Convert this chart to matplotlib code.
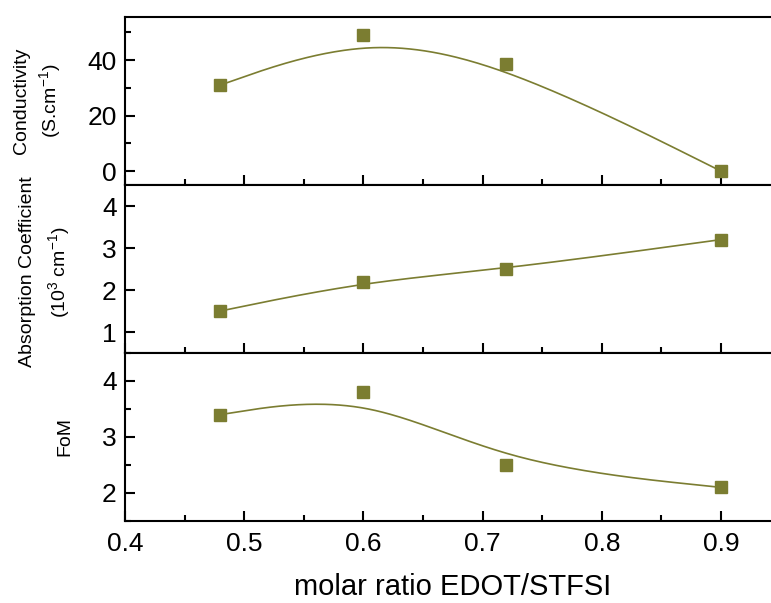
import numpy as np
import matplotlib
matplotlib.use("Agg")
import matplotlib.pyplot as plt
from matplotlib.ticker import MultipleLocator

plt.rcParams['font.family'] = ['Liberation Sans', 'DejaVu Sans']
plt.rcParams['mathtext.fontset'] = 'custom'
plt.rcParams['mathtext.rm'] = 'Liberation Sans'
plt.rcParams['mathtext.it'] = 'Liberation Sans:italic'
plt.rcParams['mathtext.default'] = 'regular'

molar_ratio = [0.48, 0.60, 0.72, 0.90]
conductivity = [31.0, 49.0, 38.5, 0.0]
absorption = [1.5, 2.2, 2.5, 3.2]
fom = [3.4, 3.8, 2.5, 2.1]

xticks = [0.4, 0.5, 0.6, 0.7, 0.8, 0.9]
xticklabels = ['0.4', '0.5', '0.6', '0.7', '0.8', '0.9']

COLOR = '#7b7d31'
W, H = 771, 603


def bspline(xs, ys, n=60):
    """Uniform cubic B-spline with clamped (tripled) end control points."""
    px = np.r_[[xs[0]] * 2, xs, [xs[-1]] * 2].astype(float)
    py = np.r_[[ys[0]] * 2, ys, [ys[-1]] * 2].astype(float)
    t = np.linspace(0, 1, n)
    b0 = (1 - t) ** 3 / 6
    b1 = (3 * t ** 3 - 6 * t ** 2 + 4) / 6
    b2 = (-3 * t ** 3 + 3 * t ** 2 + 3 * t + 1) / 6
    b3 = t ** 3 / 6
    ox, oy = [], []
    for i in range(len(px) - 3):
        ox.append(b0 * px[i] + b1 * px[i + 1] + b2 * px[i + 2] + b3 * px[i + 3])
        oy.append(b0 * py[i] + b1 * py[i + 1] + b2 * py[i + 2] + b3 * py[i + 3])
    return np.concatenate(ox), np.concatenate(oy)


fig = plt.figure(figsize=(W / 100, H / 100), dpi=100)

left = 125 / W
right = 1.0
tops = [17, 185, 353]
bottoms = [185, 353, 521]
series = [conductivity, absorption, fom]
ylims = [(-5, 55.5), (0.5, 4.5), (1.5, 4.5)]
ymajor = [20, 1, 1]
yminor = [10, None, 0.5]

axes = []
for k in range(3):
    b = 1 - bottoms[k] / H
    h = (bottoms[k] - tops[k]) / H
    ax = fig.add_axes([left, b, right - left, h])
    axes.append(ax)
    cx, cy = bspline(molar_ratio, series[k])
    ax.plot(cx, cy, color=COLOR, lw=1.2, zorder=2)
    ax.plot(molar_ratio, series[k], 's', color=COLOR, ms=8, mec=COLOR, zorder=3)
    ax.set_xlim(0.4, 0.4 + (W - 125) / 1192)
    ax.set_ylim(*ylims[k])
    ax.yaxis.set_major_locator(MultipleLocator(ymajor[k]))
    if yminor[k]:
        ax.yaxis.set_minor_locator(MultipleLocator(yminor[k]))
    ax.set_xticks(xticks)
    ax.xaxis.set_minor_locator(MultipleLocator(0.05))
    ax.spines['right'].set_visible(False)
    for s in ['left', 'top', 'bottom']:
        ax.spines[s].set_linewidth(1.5)
    ax.tick_params(axis='both', which='major', direction='in', length=7, width=1.5,
                   labelsize=19, top=False, right=False)
    ax.tick_params(axis='both', which='minor', direction='in', length=4, width=1.5,
                   top=False, right=False)
    ax.tick_params(axis='y', pad=6)
    if k < 2:
        ax.tick_params(axis='x', labelbottom=False)
    else:
        ax.set_xticklabels(xticklabels)
        ax.tick_params(axis='x', pad=8)

fig.text(453 / W, 1 - 595 / H, 'molar ratio EDOT/STFSI', fontsize=21,
         ha='center', va='baseline')

def ftext(xp, yp, s, size=14):
    fig.text(xp / W, 1 - yp / H, s, rotation=90, ha='center', va='center', fontsize=size)

ftext(22, 101, 'Conductivity')
ftext(50, 101, '(S.cm$^{-1}$)')
ftext(28, 272, 'Absorption Coefficient')
ftext(59, 272, '(10$^{3}$ cm$^{-1}$)')
ftext(65, 437, 'FoM')

fig.savefig('out.png', dpi=100)
